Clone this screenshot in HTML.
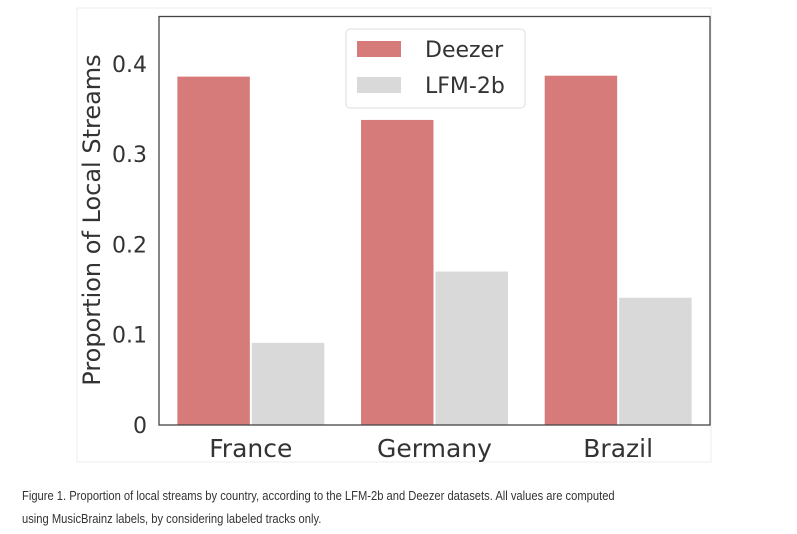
<!DOCTYPE html>
<html><head><meta charset="utf-8"><style>
body{margin:0;background:#fff;width:797px;height:534px;overflow:hidden;font-family:"DejaVu Sans","Liberation Sans",sans-serif}
#cap{position:absolute;left:22px;top:484px;width:760px;font-family:"Liberation Sans",sans-serif;font-size:13px;line-height:23px;color:#333;transform:scaleX(0.86);transform-origin:left top;white-space:nowrap}
</style></head><body>
<svg width="797" height="480" style="position:absolute;left:0;top:0">
<rect x="77" y="8" width="634" height="454" fill="none" stroke="#eee"/>
<g id="bars"></g>
<rect x="159" y="16.5" width="551" height="408.5" fill="none" stroke="#444" stroke-width="1.3"/>
<g id="yt" font-size="22" fill="#333" text-anchor="end"></g>
<g id="xt" font-size="25" fill="#333" text-anchor="middle"></g>
<text transform="translate(100,220) rotate(-90)" text-anchor="middle" font-size="24" fill="#333">Proportion of Local Streams</text>
<g>
<rect x="346" y="29" width="179" height="79" rx="4" fill="#fff" stroke="#ddd"/>
<rect x="357" y="41" width="44" height="16" fill="#d77b7a"/>
<text x="425" y="57" font-size="22" fill="#333">Deezer</text>
<rect x="357" y="77" width="44" height="16" fill="#d9d9d9"/>
<text x="425" y="93" font-size="22" fill="#333">LFM-2b</text>
</g>
</svg>
<div id="cap">Figure 1. Proportion of local streams by country, according to the LFM-2b and Deezer datasets. All values are computed<br>using MusicBrainz labels, by considering labeled tracks only.</div>
<script>
const categories=["France","Germany","Brazil"];
const deezer=[0.386,0.338,0.387];
const lfm=[0.091,0.170,0.141];
const yTicks=[0,0.1,0.2,0.3,0.4];
const yTickLabels=["0","0.1","0.2","0.3","0.4"];
const L=159,R=710,T=16.5,B=425,YMAX=0.4526;
const y=v=>B-(v/YMAX)*(B-T);
const band=(R-L)/categories.length;
const xc=i=>L+band*(i+0.5);
const bw=band*0.4;
const ns="http://www.w3.org/2000/svg";
const bars=document.getElementById('bars');
function bar(x,v,c,n){const r=document.createElementNS(ns,'rect');
r.setAttribute('x',x);r.setAttribute('y',y(v));r.setAttribute('width',bw-1);r.setAttribute('height',B-y(v));r.setAttribute('fill',c);


bars.appendChild(r);}
categories.forEach((c,i)=>{
bar(xc(i)-bw,deezer[i],'#d77b7a','bar-deezer-'+c.toLowerCase());
bar(xc(i)+1,lfm[i],'#d9d9d9','bar-lfm-'+c.toLowerCase());
const t=document.createElementNS(ns,'text');t.setAttribute('x',xc(i));t.setAttribute('y',457);t.textContent=c;


document.getElementById('xt').appendChild(t);});
yTicks.forEach((v,i)=>{const t=document.createElementNS(ns,'text');t.setAttribute('x',147);t.setAttribute('y',y(v)+8);t.textContent=yTickLabels[i];


document.getElementById('yt').appendChild(t);});
</script>
</body></html>
